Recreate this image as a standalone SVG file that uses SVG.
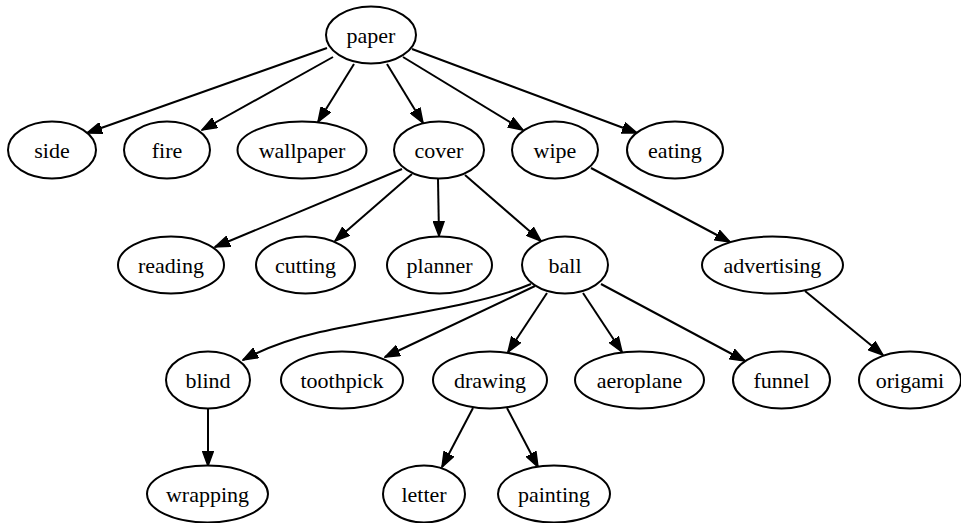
<svg xmlns="http://www.w3.org/2000/svg" width="961" height="523" viewBox="0 0 961 523">
<style>
.n ellipse{fill:#fff;stroke:#000;stroke-width:2}
.n text{font-family:"Liberation Serif","Times New Roman",serif;font-size:22px;text-anchor:middle;fill:#000}
.e path{fill:none;stroke:#000;stroke-width:2;marker-end:url(#ah)}
</style>
<defs>
<marker id="ah" viewBox="0 0 16 12" refX="15" refY="6" markerWidth="16" markerHeight="12" markerUnits="userSpaceOnUse" orient="auto">
<path d="M0,0.5 L15,6 L0,11.5 z" fill="#000" stroke="#000" stroke-width="1.5"/>
</marker>
</defs>
<rect width="961" height="523" fill="#fff"/>
<g id="edges" class="e">
<path d="M327,48 L87,133"/>
<path d="M333,57 L202,130"/>
<path d="M354,64 L318,122"/>
<path d="M387,64 L423,123"/>
<path d="M403,57 L523,130"/>
<path d="M412,49 L637,133"/>
<path d="M402,169 L215,247"/>
<path d="M412,174 L335,241"/>
<path d="M438,179 L439,236"/>
<path d="M465,175 L541,241"/>
<path d="M591,168 L730,242"/>
<path d="M531,284 C480,306 380,318 320,332 C290,339 265,348 243,360"/>
<path d="M535,286 L385,357"/>
<path d="M547,293 L508,352"/>
<path d="M583,293 L622,352"/>
<path d="M601,284 L745,361"/>
<path d="M805,291 L883,355"/>
<path d="M208,409 L208,466"/>
<path d="M473,408 L442,467"/>
<path d="M507,408 L538,467"/>
</g>
<g id="paper" class="n"><ellipse cx="371" cy="35" rx="45" ry="28.5"/><text x="371" y="43">paper</text></g>
<g id="side" class="n"><ellipse cx="52" cy="150" rx="44" ry="28.5"/><text x="52" y="158">side</text></g>
<g id="fire" class="n"><ellipse cx="167" cy="150" rx="43" ry="28.5"/><text x="167" y="158">fire</text></g>
<g id="wallpaper" class="n"><ellipse cx="302" cy="150" rx="64.5" ry="28.5"/><text x="302" y="158">wallpaper</text></g>
<g id="cover" class="n"><ellipse cx="439" cy="150" rx="45" ry="28.5"/><text x="439" y="158">cover</text></g>
<g id="wipe" class="n"><ellipse cx="555" cy="150" rx="43" ry="28.5"/><text x="555" y="158">wipe</text></g>
<g id="eating" class="n"><ellipse cx="675" cy="150" rx="48" ry="28.5"/><text x="675" y="158">eating</text></g>
<g id="reading" class="n"><ellipse cx="171" cy="265" rx="53" ry="28.5"/><text x="171" y="273">reading</text></g>
<g id="cutting" class="n"><ellipse cx="305.5" cy="265" rx="49.5" ry="28.5"/><text x="305.5" y="273">cutting</text></g>
<g id="planner" class="n"><ellipse cx="439.5" cy="265" rx="52.5" ry="28.5"/><text x="439.5" y="273">planner</text></g>
<g id="ball" class="n"><ellipse cx="565" cy="265" rx="43" ry="28.5"/><text x="565" y="273">ball</text></g>
<g id="advertising" class="n"><ellipse cx="772.5" cy="265" rx="70.5" ry="28.5"/><text x="772.5" y="273">advertising</text></g>
<g id="blind" class="n"><ellipse cx="208" cy="380" rx="42" ry="28.5"/><text x="208" y="388">blind</text></g>
<g id="toothpick" class="n"><ellipse cx="342" cy="380" rx="61" ry="28.5"/><text x="342" y="388">toothpick</text></g>
<g id="drawing" class="n"><ellipse cx="490" cy="380" rx="57" ry="28.5"/><text x="490" y="388">drawing</text></g>
<g id="aeroplane" class="n"><ellipse cx="639.5" cy="380" rx="64.5" ry="28.5"/><text x="639.5" y="388">aeroplane</text></g>
<g id="funnel" class="n"><ellipse cx="781.5" cy="380" rx="48.5" ry="28.5"/><text x="781.5" y="388">funnel</text></g>
<g id="origami" class="n"><ellipse cx="910" cy="380" rx="51" ry="28.5"/><text x="910" y="388">origami</text></g>
<g id="wrapping" class="n"><ellipse cx="207.5" cy="494" rx="60.5" ry="28.5"/><text x="207.5" y="502">wrapping</text></g>
<g id="letter" class="n"><ellipse cx="424" cy="494" rx="41" ry="28.5"/><text x="424" y="502">letter</text></g>
<g id="painting" class="n"><ellipse cx="554" cy="494" rx="56" ry="28.5"/><text x="554" y="502">painting</text></g>
</svg>
